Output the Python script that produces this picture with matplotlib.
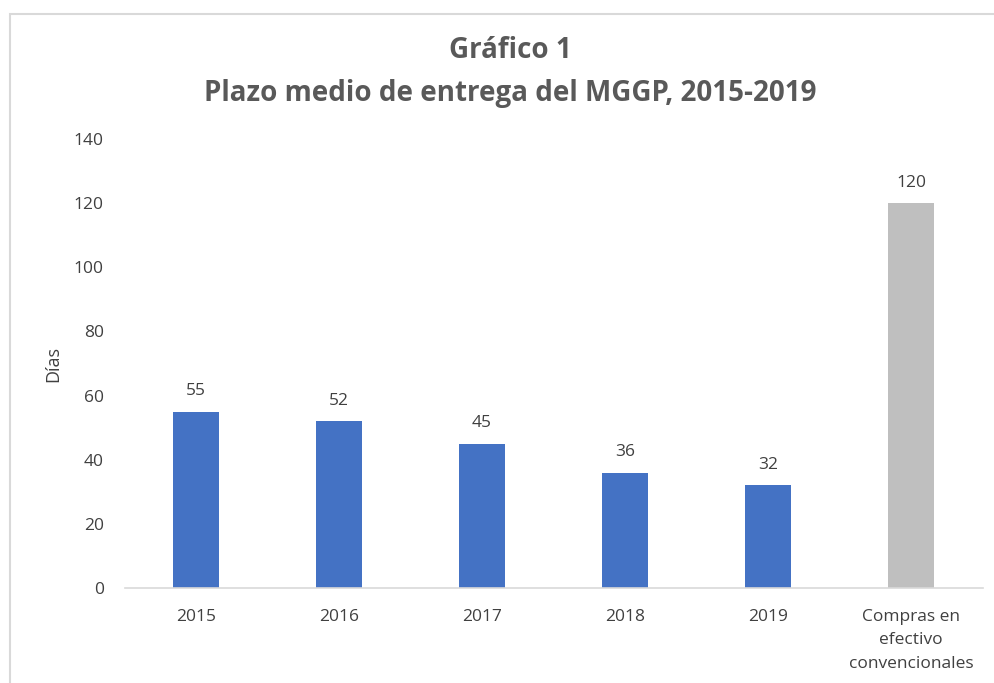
import matplotlib
matplotlib.use("Agg")
import matplotlib.pyplot as plt
from matplotlib.patches import Rectangle

categories = ["2015", "2016", "2017", "2018", "2019", "Compras en\nefectivo\nconvencionales"]
values = [55, 52, 45, 36, 32, 120]
colors = ["#4472C4"] * 5 + ["#BFBFBF"]
yticks = [0, 20, 40, 60, 80, 100, 120, 140]

plt.rcParams['font.family'] = ['Open Sans', 'DejaVu Sans']
txt = "#595959"

fig = plt.figure(figsize=(9.94, 6.83), dpi=100)
fig.patches.append(Rectangle((10/994, -0.01), 1.0, 1 - 14/683 + 0.01, transform=fig.transFigure,
                             fill=False, edgecolor="#D9D9D9", linewidth=1.5))
ax = fig.add_axes([124.5/994, 1 - 588/683, (982.5 - 124.5)/994, (588 - 139)/683])

x = range(len(categories))
bars = ax.bar(x, values, width=0.32, color=colors)
for xi, v in zip(x, values):
    ax.annotate(str(v), (xi, v), xytext=(0, 9), textcoords="offset points",
                ha="center", va="bottom", fontsize=12.5, color="#404040")

ax.set_xlim(-0.5, len(categories) - 0.5)
ax.set_ylim(0, 140)
ax.set_yticks(yticks)
ax.set_xticks(list(x))
ax.set_xticklabels(categories, fontsize=12.5, color="#404040", linespacing=1.62)
ax.tick_params(axis="y", labelsize=12.5, labelcolor="#404040", length=0, pad=15)
ax.tick_params(axis="x", length=0, pad=15)
for s in ["top", "right", "left"]:
    ax.spines[s].set_visible(False)
ax.spines["bottom"].set_color("#D9D9D9")
ax.spines["bottom"].set_linewidth(1.2)
ax.set_ylabel("Días", fontsize=13, color="#404040", labelpad=8)

fig.text(510/994, 1 - 51/683, "Gráfico 1", ha="center", va="center", fontsize=20,
         fontweight="bold", color=txt)
fig.text(510/994, 1 - 93/683, "Plazo medio de entrega del MGGP, 2015-2019", ha="center",
         va="center", fontsize=20, fontweight="bold", color=txt)

fig.savefig("out.png", dpi=100)
